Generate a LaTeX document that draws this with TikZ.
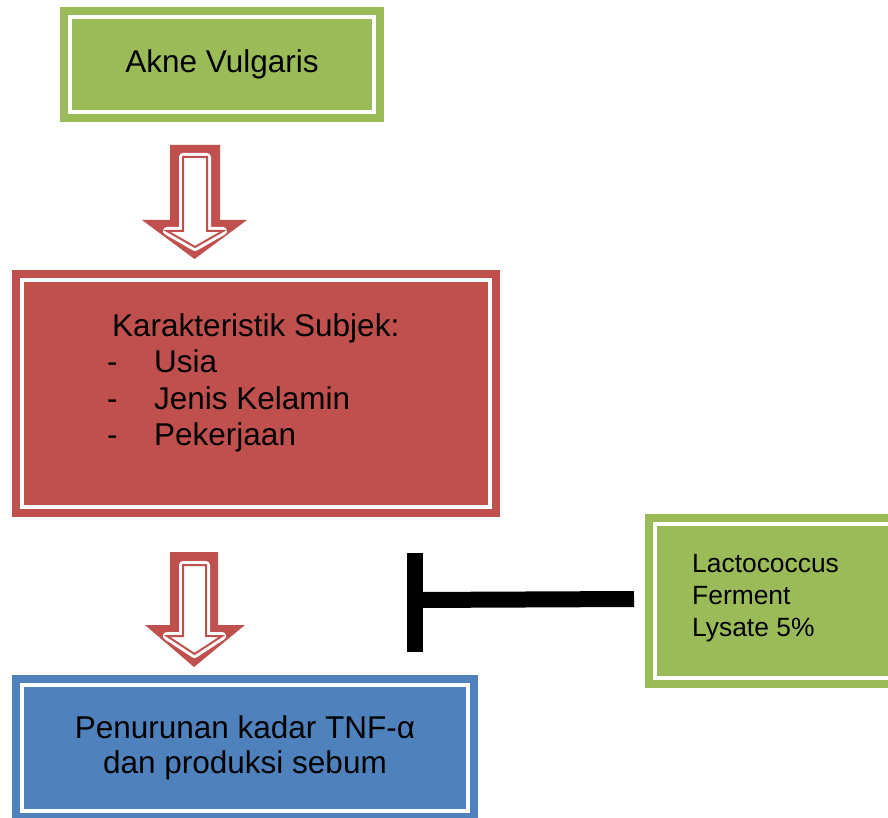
\documentclass[tikz,border=0pt]{standalone}
\usepackage{fontspec}
\setmainfont{Liberation Sans}
\usetikzlibrary{positioning, calc}
\definecolor{leaf}{HTML}{9BBB59}
\definecolor{brick}{HTML}{C0504D}
\definecolor{steel}{HTML}{4F81BD}
\tikzset{
  % Framed boxes with a white inner rule
  framebox/.style={
    rectangle, fill=#1, draw=#1, double=white, double distance=4pt,
    line width=8pt, outer sep=0pt, inner sep=0pt, align=center,
    text=black, font=\fontsize{31.5pt}{35pt}\selectfont
  },
  framebox/.default=leaf,
  % Labels
  biglabel/.style={inner sep=0pt, text=black, font=\fontsize{31.5pt}{36pt}\selectfont},
  smalllabel/.style={inner sep=0pt, text=black, align=left, font=\fontsize{26.4pt}{32pt}\selectfont},
  % Hollow block arrows
  arrowfill/.style={fill=brick},
  arrowcore/.style={draw=brick, line width=2pt, fill=white, line join=miter,
    preaction={draw=white, line width=8pt, line join=round}},
  % Inhibition bar
  inhibit/.style={draw=black, line width=16pt},
}
\begin{document}
\begin{tikzpicture}[x=1pt, y=-1pt]
  \clip (0,0) rectangle (888,818);

  % boxes
  \node[framebox=leaf, minimum width=304pt, minimum height=95pt] (acne) at (222,64.5) {Akne Vulgaris};
  \node[framebox=brick, minimum width=468pt, minimum height=227pt] (subject) at (256,393.5) {};
  \node[framebox=steel, minimum width=446pt, minimum height=126pt] (result) at (245,748) {Penurunan kadar TNF-α\\dan produksi sebum};
  \node[framebox=leaf, minimum width=235pt, minimum height=154pt] (lacto) at (772.5,601) {};

  % texts
  \node[biglabel, anchor=base west] (subjhead) at (112,336) {Karakteristik Subjek:};
  \foreach \feature [count=\i] in {Usia, Jenis Kelamin, Pekerjaan} {
    \node[biglabel, anchor=base west] (dash\i) at (107,{336+36.5*\i}) {-};
    \node[biglabel, anchor=base west] (feature\i) at (154,{336+36.5*\i}) {\feature};
  }
  \node[smalllabel, anchor=north west] (lactotext) at (692,554) {Lactococcus\\Ferment\\Lysate 5\%};

  % block arrows
  \fill[arrowfill] (170,145) -- (220,145) -- (220,220) -- (247,220) -- (194.5,259) -- (142,220) -- (170,220) -- cycle;
  \draw[arrowcore] (183,157) -- (207,157) -- (207,231) -- (223,231) -- (195,247) -- (167,231) -- (183,231) -- cycle;
  \fill[arrowfill] (170,552) -- (218,552) -- (218,625) -- (245,625) -- (194,667) -- (145,625) -- (170,625) -- cycle;
  \draw[arrowcore] (183,565) -- (206,565) -- (206,636) -- (222,636) -- (194.5,654) -- (167,636) -- (183,636) -- cycle;

  % inhibition
  \coordinate (bartop) at (415,553);
  \coordinate (barbot) at (415,652);
  \draw[inhibit] (bartop) -- (barbot);
  \draw[inhibit] ([xshift=-21pt, yshift=2pt]lacto.west) -- ([yshift=1pt]bartop |- lacto.west);
\end{tikzpicture}
\end{document}
